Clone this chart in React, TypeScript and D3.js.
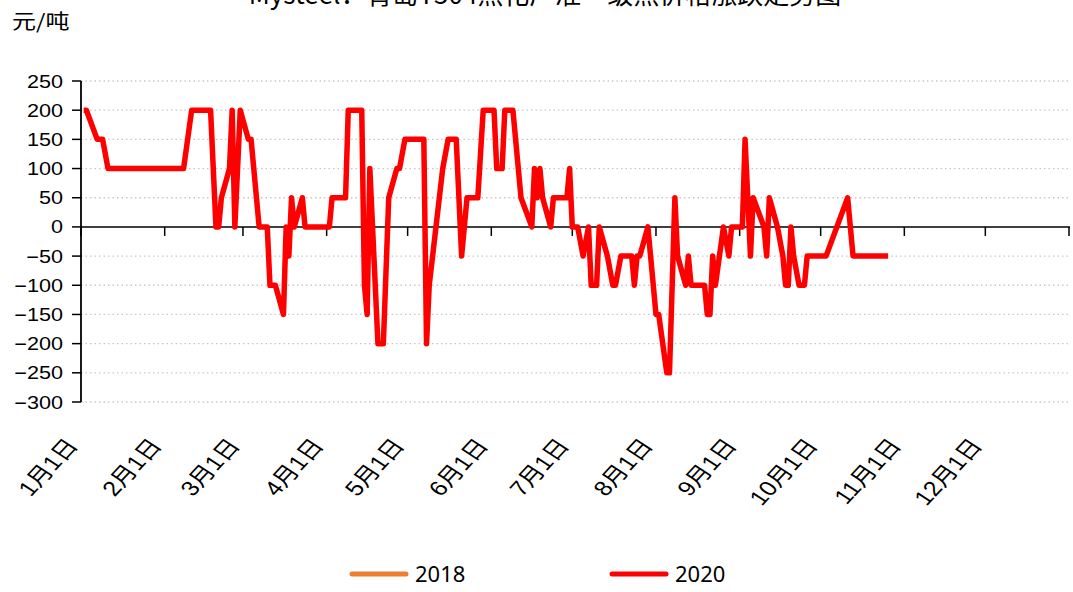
import React from 'react';
import * as d3 from 'd3';

// 2020 series (month/day, 元/吨)
const dates2020 = [
  '1/2', '1/3', '1/7', '1/9', '1/11', '2/8', '2/11', '2/18', '2/20', '2/21',
  '2/22', '2/25', '2/26', '2/27', '2/29', '3/3', '3/4', '3/7', '3/10', '3/11',
  '3/13', '3/16', '3/17', '3/18', '3/19', '3/20', '3/23', '3/24', '4/2', '4/3',
  '4/8', '4/9', '4/14', '4/15', '4/16', '4/17', '4/20', '4/22', '4/24', '4/27',
  '4/28', '4/30', '5/7', '5/8', '5/9', '5/14', '5/16', '5/19', '5/21', '5/23',
  '5/27', '5/29', '6/2', '6/3', '6/5', '6/6', '6/9', '6/11', '6/12', '6/16',
  '6/17', '6/18', '6/19', '6/20', '6/23', '6/24', '6/29', '6/30', '7/1', '7/3',
  '7/5', '7/7', '7/8', '7/10', '7/11', '7/14', '7/16', '7/17', '7/19', '7/23',
  '7/24', '7/25', '7/26', '7/29', '8/1', '8/2', '8/5', '8/6', '8/8', '8/9',
  '8/12', '8/13', '8/14', '8/19', '8/20', '8/21', '8/22', '8/23', '8/26', '8/28',
  '8/29', '9/2', '9/3', '9/5', '9/6', '9/10', '9/11', '9/12', '9/15', '9/17',
  '9/18', '9/19', '9/20', '9/21', '9/23', '9/25', '9/26', '10/3', '10/11', '10/13',
  '10/26',
];
const values2020 = [
  200, 200, 150, 150, 100, 100, 200, 200, 0, 0,
  50, 100, 200, 0, 200, 150, 150, 0, 0, -100,
  -100, -150, 0, -50, 50, 0, 50, 0, 0, 50,
  50, 200, 200, -100, -150, 100, -200, -200, 50, 100,
  100, 150, 150, -200, -100, 100, 150, 150, -50, 50,
  50, 200, 200, 100, 100, 200, 200, 100, 50, 0,
  100, 50, 100, 50, 0, 50, 50, 100, 0, 0,
  -50, 0, -100, -100, 0, -50, -100, -100, -50, -50,
  -100, -50, -50, 0, -150, -150, -250, -250, 50, -50,
  -100, -50, -100, -100, -150, -150, -50, -100, 0, -50,
  0, 0, 150, -50, 50, 0, -50, 50, 0, -50,
  -100, -100, 0, -50, -100, -100, -50, -50, 50, -50,
  -50,
];
// 2018 appears only in the legend
const dates2018: string[] = [];
const values2018: number[] = [];

const yTicks = [250, 200, 150, 100, 50, 0, -50, -100, -150, -200, -250, -300];
const monthLabels = ['1月1日', '2月1日', '3月1日', '4月1日', '5月1日', '6月1日',
  '7月1日', '8月1日', '9月1日', '10月1日', '11月1日', '12月1日'];
const seriesNames = ['2018', '2020'];
const seriesColors = ['#ED7D31', '#FF0000'];
const unitLabel = '元/吨';
const titleText = 'Mysteel：青岛T504焦化厂准一级焦价格涨跌走势图';

const W = 1073;
const H = 592;
const plot = { left: 81, right: 1069, top: 81, bottom: 402 };
const numFont = '"Liberation Sans", Arial, "Noto Sans CJK SC", sans-serif';
const stretch = 1.2;

export default function App() {
  const parseDay = (s: string) => d3.timeParse('%Y/%m/%d')('2020/' + s) as Date;

  const x = d3.scaleTime()
    .domain([new Date(2020, 0, 1), new Date(2021, 0, 1)])
    .range([plot.left, plot.right]);
  const y = d3.scaleLinear().domain([-300, 250]).range([plot.bottom, plot.top]);
  const fmt = d3.format('');

  const line = d3.line<[Date, number]>()
    .x(d => x(d[0]))
    .y(d => y(d[1]));

  const pts2020: [Date, number][] = dates2020.map((d, i) => [parseDay(d), values2020[i]]);
  const pts2018: [Date, number][] = dates2018.map((d, i) => [parseDay(d), values2018[i]]);

  const monthTicks = d3.timeMonth.range(new Date(2020, 0, 1), new Date(2021, 0, 2));
  const y0 = y(0);

  const legendX = [352, 612];

  return (
    <svg width={W} height={H} style={{ position: 'absolute', left: 0, top: 0, background: '#fff' }}>
      {/* title, cut off at the top edge as in the source */}
      <text x={545} y={4} textAnchor="middle" fontSize={26}
        fontFamily='"Noto Sans CJK SC", sans-serif' fill="#000">{titleText}</text>

      <g transform={`translate(12,29) scale(${stretch},1)`}>
        <text fontSize={20} fontFamily='"Noto Sans CJK SC", serif' fill="#000">{unitLabel}</text>
      </g>

      {/* dotted grid */}
      {yTicks.filter(t => t !== 0).map(t => (
        <line key={'g' + t} x1={plot.left} x2={plot.right} y1={y(t)} y2={y(t)}
          stroke="#c8c8c8" strokeWidth={1.3} strokeDasharray="1.5,3" />
      ))}

      {/* y axis */}
      <line x1={plot.left} x2={plot.left} y1={plot.top} y2={plot.bottom} stroke="#000" strokeWidth={1.8} />
      {yTicks.map(t => (
        <g key={'y' + t}>
          <line x1={plot.left - 9} x2={plot.left} y1={y(t)} y2={y(t)} stroke="#000" strokeWidth={1.5} />
          <g transform={`translate(${plot.left - 18},${y(t) + 6.5}) scale(${stretch},1)`}>
            <text textAnchor="end" fontSize={18} fontFamily={numFont} fill="#000">{fmt(t)}</text>
          </g>
        </g>
      ))}

      {/* x axis at zero */}
      <line x1={plot.left} x2={plot.right + 1} y1={y0} y2={y0} stroke="#000" strokeWidth={1.5} />
      {monthTicks.map((d, i) => (
        <line key={'t' + i} x1={x(d)} x2={x(d)} y1={y0} y2={y0 + 9} stroke="#000" strokeWidth={1.5} />
      ))}
      {monthTicks.slice(0, 12).map((d, i) => (
        <g key={'l' + i} transform={`translate(${x(d) - 2},${plot.bottom + 44}) scale(${stretch},1) rotate(-52)`}>
          <text textAnchor="end" fontSize={21} fontFamily={numFont} fill="#000">{monthLabels[i]}</text>
        </g>
      ))}

      {/* series */}
      <path d={line(pts2018) || ''} fill="none" stroke={seriesColors[0]} strokeWidth={5.5} strokeLinejoin="round" />
      <path d={line(pts2020) || ''} fill="none" stroke={seriesColors[1]} strokeWidth={5.5} strokeLinejoin="round" />

      {/* legend */}
      {seriesNames.map((name, i) => (
        <g key={name}>
          <line x1={legendX[i]} x2={legendX[i] + 54} y1={574} y2={574}
            stroke={seriesColors[i]} strokeWidth={5} strokeLinecap="round" />
          <text x={legendX[i] + 63} y={582} fontSize={22}
            fontFamily='"Noto Sans", "Open Sans", sans-serif' fill="#000">{name}</text>
        </g>
      ))}
    </svg>
  );
}
